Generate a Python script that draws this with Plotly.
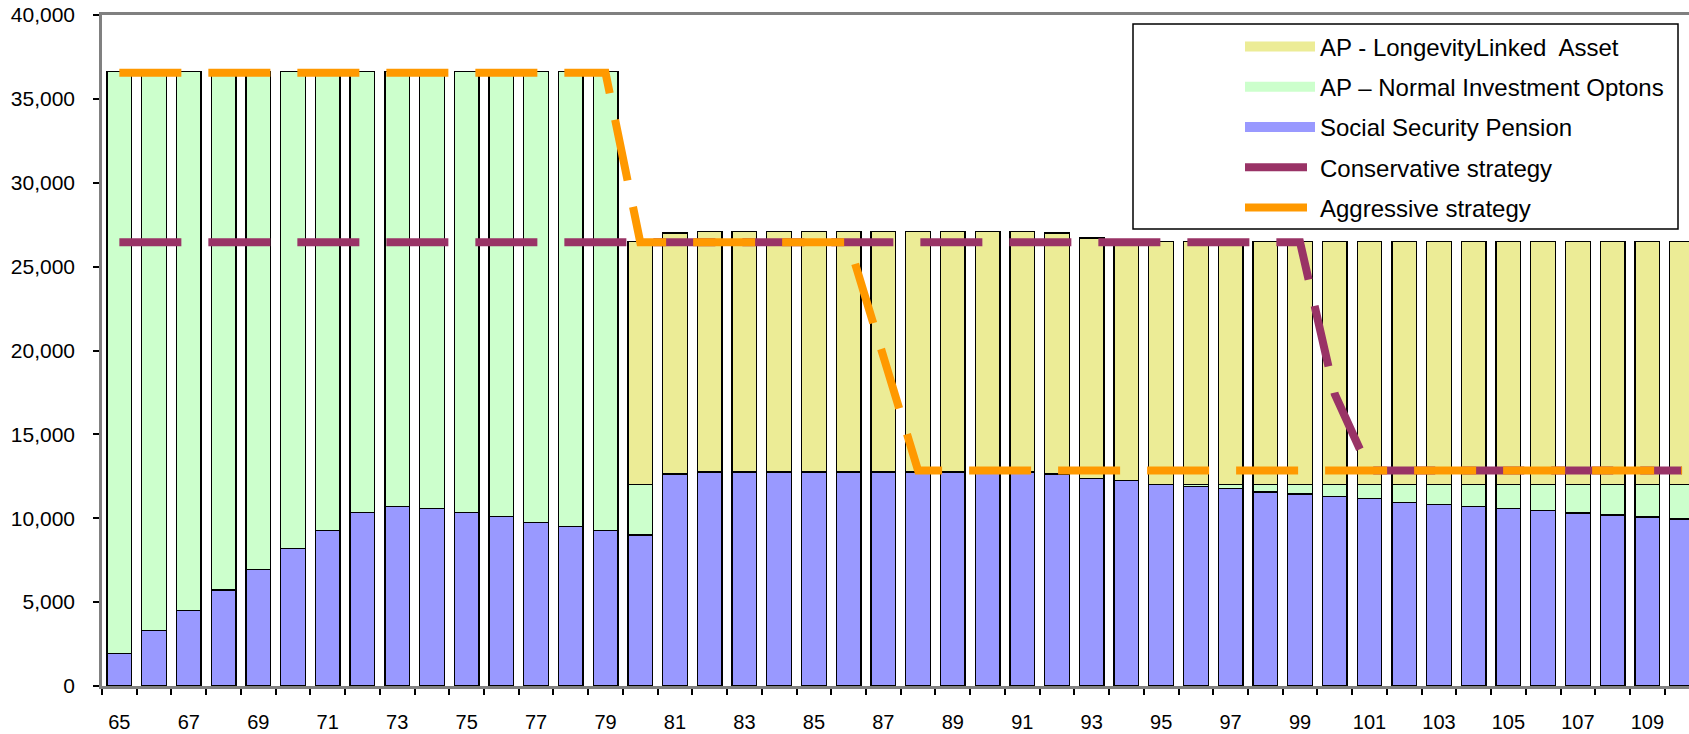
import plotly.graph_objects as go

ages = list(range(65, 111))

social_security = [1950, 3300, 4500, 5720, 6930, 8180, 9270, 10340, 10700, 10580,
                   10340, 10100, 9730, 9490, 9270, 9000, 12630, 12750, 12750, 12750,
                   12750, 12750, 12750, 12750, 12750, 12750, 12750, 12630, 12370, 12250,
                   12000, 11910, 11770, 11560, 11440, 11290, 11170, 10960, 10820, 10700,
                   10580, 10460, 10320, 10200, 10080, 9960]

normal_investment = [34700, 33350, 32150, 30930, 29720, 28470, 27380, 26310, 25950, 26070,
                     26310, 26550, 26920, 27160, 27380, 3000, 0, 0, 0, 0,
                     0, 0, 0, 0, 0, 0, 0, 0, 0, 0,
                     0, 90, 230, 440, 560, 710, 830, 1040, 1180, 1300,
                     1420, 1540, 1680, 1800, 1920, 2040]

longevity_linked = [0, 0, 0, 0, 0, 0, 0, 0, 0, 0,
                    0, 0, 0, 0, 0, 14500, 14370, 14350, 14350, 14350,
                    14350, 14350, 14350, 14350, 14350, 14350, 14350, 14370, 14330, 14350,
                    14500, 14500, 14500, 14500, 14500, 14500, 14500, 14500, 14500, 14500,
                    14500, 14500, 14500, 14500, 14500, 14500]

conservative = [26450] * 35 + [17400] + [12850] * 10
aggressive = [36550] * 15 + [26450] * 7 + [19650] + [12850] * 23

y_ticks = list(range(0, 40001, 5000))
x_label_ages = list(range(65, 111, 2))

FONT = "Arial, Liberation Sans, sans-serif"
COL_SS, COL_NORMAL, COL_LONG = "#9999FF", "#CCFFCC", "#ECEC96"
COL_CONS, COL_AGG = "#993366", "#FF9900"
DASH = "62px,27px"

fig = go.Figure()
bar_line = dict(color="#000000", width=1.3)
fig.add_trace(go.Bar(x=ages, y=social_security, name="Social Security Pension",
                     marker=dict(color=COL_SS, line=bar_line), showlegend=False))
fig.add_trace(go.Bar(x=ages, y=normal_investment, name="AP \u2013 Normal Investment Optons",
                     marker=dict(color=COL_NORMAL, line=bar_line), showlegend=False))
fig.add_trace(go.Bar(x=ages, y=longevity_linked, name="AP - LongevityLinked  Asset",
                     marker=dict(color=COL_LONG, line=bar_line), showlegend=False))
fig.add_trace(go.Scatter(x=ages, y=conservative, name="Conservative strategy", mode="lines",
                         line=dict(color=COL_CONS, width=8, dash=DASH),
                         legendrank=4, legendgroup="g4"))
fig.add_trace(go.Scatter(x=ages, y=aggressive, name="Aggressive strategy", mode="lines",
                         line=dict(color=COL_AGG, width=8, dash=DASH),
                         legendrank=5, legendgroup="g5"))

# legend swatches for the stacked bar series (wide rectangles, as in the original)
for name, col, rank in [("AP - LongevityLinked  Asset", COL_LONG, 1),
                        ("AP \u2013 Normal Investment Optons", COL_NORMAL, 2),
                        ("Social Security Pension", COL_SS, 3)]:
    fig.add_trace(go.Scatter(x=[None], y=[None], name=name, mode="lines",
                             line=dict(color=col, width=13),
                             legendrank=rank, legendgroup=f"g{rank}", hoverinfo="skip"))

fig.update_layout(
    width=1689, height=734,
    margin=dict(l=102, r=0, t=15, b=48),
    barmode="stack", bargap=0.29,
    plot_bgcolor="white", paper_bgcolor="white",
    font=dict(family=FONT, size=21, color="black"),
    showlegend=True,
    legend=dict(
        x=(1240 - 102) / 1587, y=(686 - 24.5) / 671, xanchor="left", yanchor="top",
        bgcolor="rgba(0,0,0,0)", borderwidth=0,
        font=dict(family=FONT, size=24, color="black"),
        itemwidth=70, tracegroupgap=6, traceorder="grouped",
    ),
    shapes=[dict(type="rect", xref="paper", yref="paper",
                 x0=(1133 - 102) / 1587, x1=(1678 - 102) / 1587,
                 y0=(686 - 229) / 671, y1=(686 - 24) / 671,
                 fillcolor="white", line=dict(color="black", width=1.5), layer="above")],
)
fig.update_xaxes(
    range=[64.5, 110.2], showgrid=False, zeroline=False, automargin=False,
    showline=True, linecolor="#808080", linewidth=2.5, mirror=True,
    tickmode="array", tickvals=x_label_ages, ticktext=[str(a) for a in x_label_ages],
    ticks="outside", ticklen=0, ticklabelstandoff=16,
    tickfont=dict(family=FONT, size=20, color="black"),
    minor=dict(tickmode="array", tickvals=[a - 0.5 for a in ages] + [110.5],
               ticks="outside", ticklen=6, tickwidth=2, tickcolor="black", showgrid=False),
)
fig.update_yaxes(
    range=[0, 40000], showgrid=False, zeroline=False, automargin=False,
    showline=True, linecolor="#808080", linewidth=2.5,
    tickmode="array", tickvals=y_ticks, ticktext=[f"{v:,}" for v in y_ticks],
    ticks="outside", ticklen=6, tickwidth=2, tickcolor="black", ticklabelstandoff=14,
    tickfont=dict(family=FONT, size=21, color="black"),
)

fig.write_html("out.html", config={"displayModeBar": False},
               post_script="document.body.style.margin='0px';document.body.style.overflow='hidden';")
